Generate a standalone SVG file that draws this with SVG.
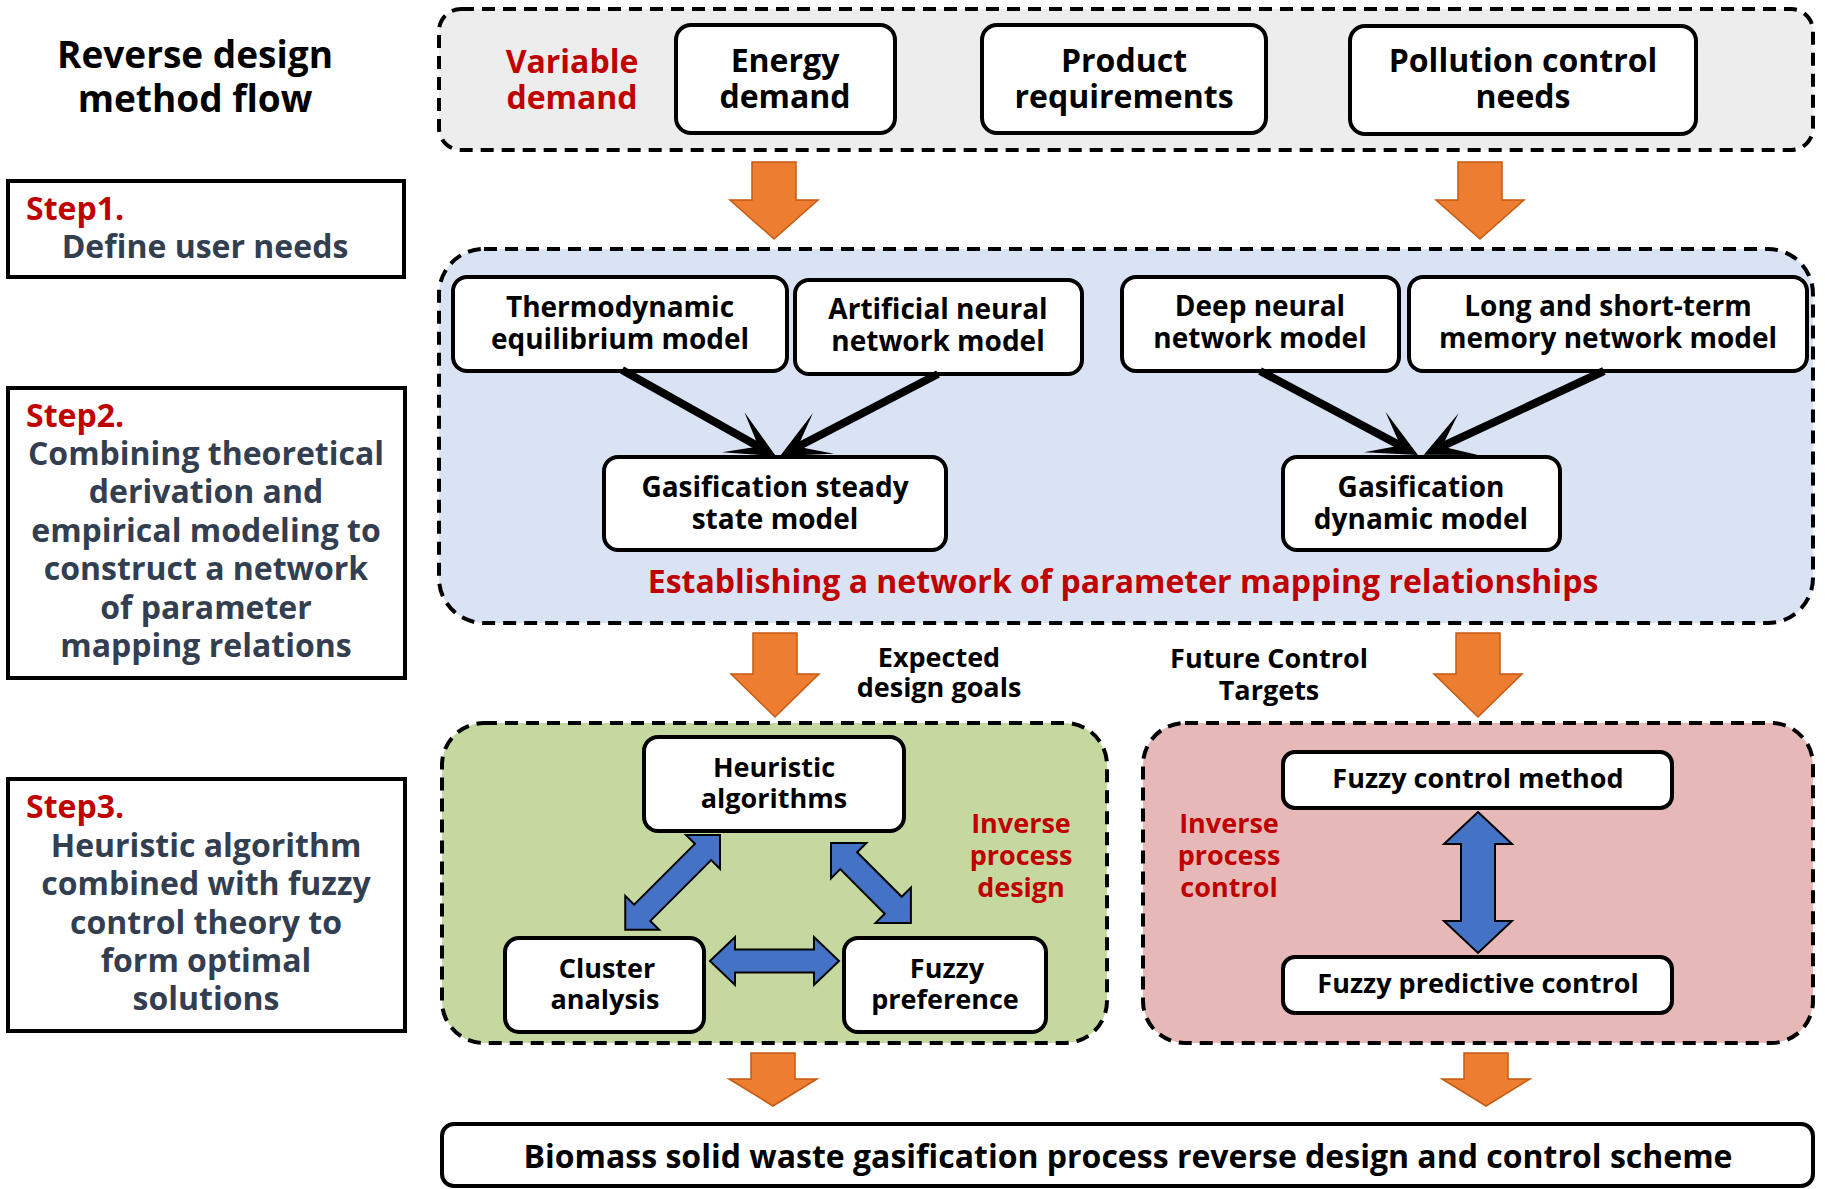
<svg xmlns="http://www.w3.org/2000/svg" width="1825" height="1189" viewBox="0 0 1825 1189">
  <style>
    text { font-family: "Open Sans", "Noto Sans", "DejaVu Sans", sans-serif; font-weight: 700; text-anchor: middle; fill: #000; }
    .title { font-size: 37px; }
    .step { font-size: 32px; fill: #C00000; text-anchor: start; }
    .stepbody { font-size: 32px; fill: #333F50; }
    .t32 { font-size: 32px; }
    .t28 { font-size: 28px; }
    .t27 { font-size: 27px; }
    text.red { fill: #C00000; }
    .stepbox { fill: #fff; stroke: #000; stroke-width: 4; }
    .node { fill: #fff; stroke: #000; stroke-width: 4; }
    .zone { stroke: #000; stroke-width: 4; stroke-dasharray: 13 8; }
    .flow { fill: #ED7D31; stroke: #C55A11; stroke-width: 1.5; }
    .dbl { fill: #4472C4; stroke: #000; stroke-width: 2; stroke-linejoin: miter; }
    .link { stroke: #000; stroke-width: 8; fill: none; marker-end: url(#head); }
  </style>
  <defs>
    <marker id="head" markerUnits="userSpaceOnUse" viewBox="-40 -30 80 60" markerWidth="80" markerHeight="60" refX="0" refY="0" orient="auto" overflow="visible">
      <path d="M20,0 L-29,-23 L0,0 L-29,23 Z" fill="#000"/>
    </marker>
  </defs>

  <rect width="1825" height="1189" fill="#fff"/>

  <!-- left column: title and step descriptions -->
  <g id="title">
    <text class="title" x="195" y="68">Reverse design<tspan x="195" dy="44">method flow</tspan></text>
  </g>
  <g id="step1">
    <rect class="stepbox" x="8" y="181" width="396" height="96"/>
    <text class="step" x="26" y="220">Step1.</text>
    <text class="stepbody" x="205" y="258">Define user needs</text>
  </g>
  <g id="step2">
    <rect class="stepbox" x="8" y="388" width="397" height="290"/>
    <text class="step" x="26" y="427">Step2.</text>
    <text class="stepbody" x="206" y="465">Combining theoretical<tspan x="206" dy="38.4">derivation and</tspan><tspan x="206" dy="38.4">empirical modeling to</tspan><tspan x="206" dy="38.4">construct a network</tspan><tspan x="206" dy="38.4">of parameter</tspan><tspan x="206" dy="38.4">mapping relations</tspan></text>
  </g>
  <g id="step3">
    <rect class="stepbox" x="8" y="779" width="397" height="252"/>
    <text class="step" x="26" y="818">Step3.</text>
    <text class="stepbody" x="206" y="857">Heuristic algorithm<tspan x="206" dy="38.3">combined with fuzzy</tspan><tspan x="206" dy="38.3">control theory to</tspan><tspan x="206" dy="38.3">form optimal</tspan><tspan x="206" dy="38.3">solutions</tspan></text>
  </g>

  <!-- dashed stage containers -->
  <g id="demand-zone">
    <rect class="zone" x="439" y="9" width="1374" height="141" rx="22" fill="#EDEDED"/>
    <text class="t32 red" x="572" y="73">Variable<tspan x="572" dy="36">demand</tspan></text>
  </g>
  <g id="mapping-zone">
    <rect class="zone" x="439" y="249" width="1374" height="374" rx="45" fill="#DAE3F3"/>
    <text class="red" x="1123" y="593" style="font-size:32px">Establishing a network of parameter mapping relationships</text>
  </g>
  <g id="design-zone">
    <rect class="zone" x="442" y="723" width="665" height="320" rx="42" fill="#C5D89F"/>
    <text class="t27 red" x="1021" y="833">Inverse<tspan x="1021" dy="32">process</tspan><tspan x="1021" dy="32">design</tspan></text>
  </g>
  <g id="control-zone">
    <rect class="zone" x="1143" y="723" width="670" height="320" rx="42" fill="#E6B9B8"/>
    <text class="t27 red" x="1229" y="833">Inverse<tspan x="1229" dy="32">process</tspan><tspan x="1229" dy="32">control</tspan></text>
  </g>

  <!-- nodes -->
  <g id="energy-demand">
    <rect class="node" x="676" y="25" width="219" height="108" rx="15"/>
    <text class="t32" x="785" y="72">Energy<tspan x="785" dy="36">demand</tspan></text>
  </g>
  <g id="product-requirements">
    <rect class="node" x="982" y="25" width="284" height="108" rx="15"/>
    <text class="t32" x="1124" y="72">Product<tspan x="1124" dy="36">requirements</tspan></text>
  </g>
  <g id="pollution-control">
    <rect class="node" x="1350" y="26" width="346" height="108" rx="15"/>
    <text class="t32" x="1523" y="72">Pollution control<tspan x="1523" dy="36">needs</tspan></text>
  </g>

  <g id="thermodynamic">
    <rect class="node" x="453" y="277" width="334" height="94" rx="14"/>
    <text class="t28" x="620" y="317">Thermodynamic<tspan x="620" dy="32">equilibrium model</tspan></text>
  </g>
  <g id="ann">
    <rect class="node" x="795" y="280" width="287" height="94" rx="14"/>
    <text class="t28" x="938" y="319">Artificial neural<tspan x="938" dy="32">network model</tspan></text>
  </g>
  <g id="dnn">
    <rect class="node" x="1122" y="277" width="277" height="94" rx="14"/>
    <text class="t28" x="1260" y="316">Deep neural<tspan x="1260" dy="32">network model</tspan></text>
  </g>
  <g id="lstm">
    <rect class="node" x="1409" y="277" width="398" height="94" rx="14"/>
    <text class="t28" x="1608" y="316">Long and short-term<tspan x="1608" dy="32">memory network model</tspan></text>
  </g>
  <g id="steady-model">
    <rect class="node" x="604" y="457" width="342" height="93" rx="14"/>
    <text class="t28" x="775" y="497">Gasification steady<tspan x="775" dy="32">state model</tspan></text>
  </g>
  <g id="dynamic-model">
    <rect class="node" x="1283" y="457" width="277" height="93" rx="14"/>
    <text class="t28" x="1421" y="497">Gasification<tspan x="1421" dy="32">dynamic model</tspan></text>
  </g>

  <g id="heuristic">
    <rect class="node" x="644" y="737" width="260" height="94" rx="14"/>
    <text class="t27" x="774" y="777">Heuristic<tspan x="774" dy="31">algorithms</tspan></text>
  </g>
  <g id="cluster">
    <rect class="node" x="505" y="938" width="199" height="94" rx="14"/>
    <text class="t27" x="607" y="978">Cluster<tspan x="605" dy="31">analysis</tspan></text>
  </g>
  <g id="fuzzy-preference">
    <rect class="node" x="844" y="938" width="202" height="94" rx="14"/>
    <text class="t27" x="947" y="978">Fuzzy<tspan x="945" dy="31">preference</tspan></text>
  </g>
  <g id="fuzzy-control">
    <rect class="node" x="1283" y="752" width="389" height="56" rx="12"/>
    <text class="t27" x="1478" y="788">Fuzzy control method</text>
  </g>
  <g id="fuzzy-predictive">
    <rect class="node" x="1283" y="957" width="389" height="56" rx="12"/>
    <text class="t27" x="1478" y="993">Fuzzy predictive control</text>
  </g>

  <g id="scheme">
    <rect class="node" x="442" y="1124" width="1371" height="62" rx="12"/>
    <text class="t32" x="1128" y="1168">Biomass solid waste gasification process reverse design and control scheme</text>
  </g>

  <!-- connectors -->
  <g id="connectors">
    <!-- stage flow arrows -->
    <path class="flow" d="M752,162 H796 V200 H818 L774,239 L730,200 H752 Z"/>
    <path class="flow" d="M1458,162 H1502 V200 H1524 L1480,239 L1436,200 H1458 Z"/>
    <path class="flow" d="M753,633 H797 V674 H819 L775,717 L731,674 H753 Z"/>
    <path class="flow" d="M1456,633 H1500 V674 H1522 L1478,717 L1434,674 H1456 Z"/>
    <path class="flow" d="M751,1053 H795 V1079 H817 L773,1106 L729,1079 H751 Z"/>
    <path class="flow" d="M1464,1053 H1508 V1079 H1530 L1486,1106 L1442,1079 H1464 Z"/>

    <!-- model mapping arrows -->
    <line class="link" x1="622" y1="370" x2="758.5" y2="446.4"/>
    <line class="link" x1="938" y1="374" x2="797.8" y2="446.8"/>
    <line class="link" x1="1260" y1="371" x2="1400.3" y2="445.6"/>
    <line class="link" x1="1604" y1="371" x2="1442" y2="446.4"/>

    <!-- two-way exchanges -->
    <polygon class="dbl" transform="translate(720,835) rotate(135)" points="0,0 24,-24 24,-11.5 110,-11.5 110,-24 134,0 110,24 110,11.5 24,11.5 24,24"/>
    <polygon class="dbl" transform="translate(831,843) rotate(45)" points="0,0 25,-25 25,-12 88,-12 88,-25 113,0 88,25 88,12 25,12 25,25"/>
    <polygon class="dbl" transform="translate(710,961)" points="0,0 25,-24 25,-11.5 104,-11.5 104,-24 129,0 104,24 104,11.5 25,11.5 25,24"/>
    <polygon class="dbl" transform="translate(1478,812) rotate(90)" points="0,0 32,-34 32,-17 109,-17 109,-34 141,0 109,34 109,17 32,17 32,34"/>

    <!-- goal labels on the flow arrows -->
    <text class="t27" x="939" y="667">Expected<tspan x="939" dy="30">design goals</tspan></text>
    <text class="t27" x="1269" y="668">Future Control<tspan x="1269" dy="32">Targets</tspan></text>
  </g>
</svg>
